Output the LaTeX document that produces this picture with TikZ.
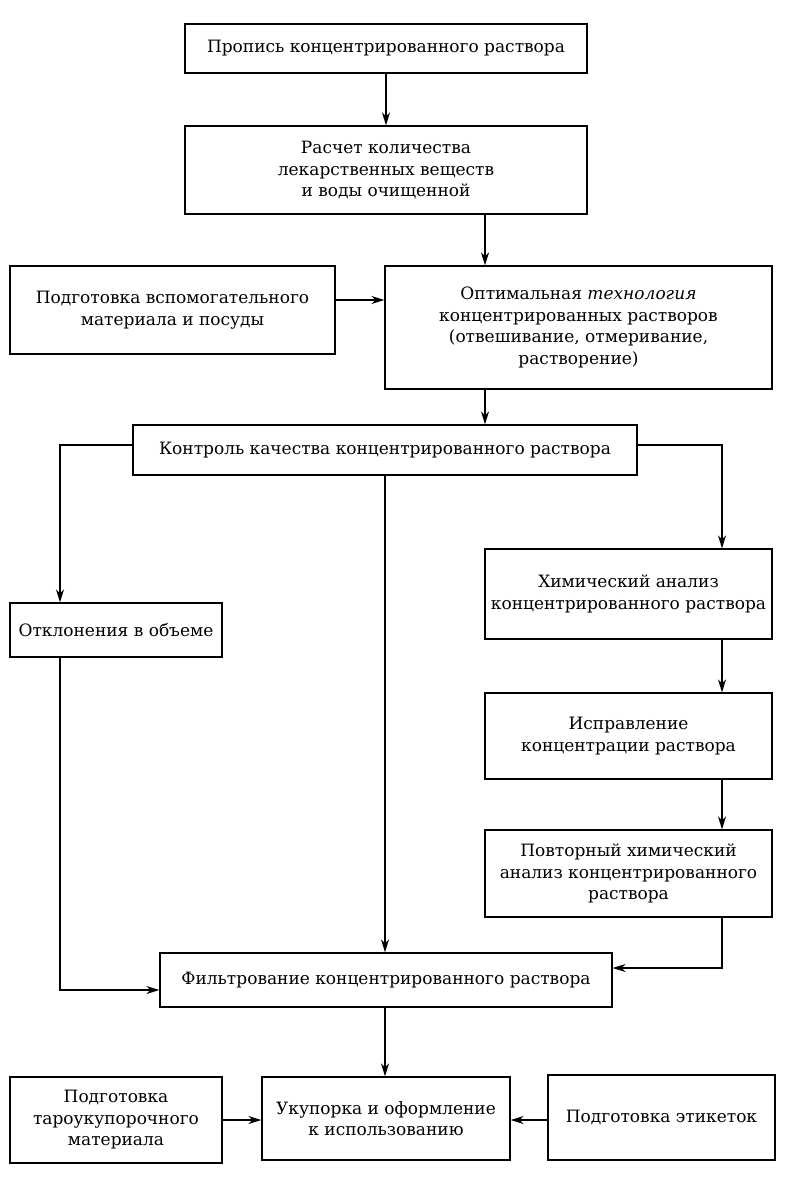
\documentclass[tikz,border=0pt]{standalone}
\usepackage{fontspec}
\setmainfont{DejaVu Serif}
\usetikzlibrary{arrows.meta}
\begin{document}
\begin{tikzpicture}[x=1pt,y=-1pt,
  box/.style={draw,line width=1.3pt,align=center,inner sep=2pt,
    font=\fontsize{17}{21.5}\selectfont,anchor=center},
  arr/.style={line width=1.2pt,-{Stealth[length=13pt,width=8pt,inset=4pt]}},
  ln/.style={line width=1.2pt}]
\useasboundingbox (0,0) rectangle (789,1179);
\node[box,minimum width=402pt,minimum height=49pt] (b1) at (386,48.5) {Пропись концентрированного раствора};
\node[box,minimum width=402pt,minimum height=88pt] (b2) at (386,170) {Расчет количества\\лекарственных веществ\\и воды очищенной};
\node[box,minimum width=325pt,minimum height=88pt] (b3) at (172.5,310) {Подготовка вспомогательного\\материала и посуды};
\node[box,minimum width=387pt,minimum height=123pt] (b4) at (578.5,327.5) {Оптимальная \textit{технология}\\концентрированных растворов\\(отвешивание, отмеривание,\\растворение)};
\node[box,minimum width=504pt,minimum height=50pt] (b5) at (385,450) {Контроль качества концентрированного раствора};
\node[box,minimum width=212pt,minimum height=54pt] (b6) at (116,630) {Отклонения в объеме};
\node[box,minimum width=287pt,minimum height=90pt] (b7) at (628.5,594) {Химический анализ\\концентрированного раствора};
\node[box,minimum width=287pt,minimum height=86pt] (b8) at (628.5,736) {Исправление\\концентрации раствора};
\node[box,minimum width=287pt,minimum height=87pt] (b9) at (628.5,873.5) {Повторный химический\\анализ концентрированного\\раствора};
\node[box,minimum width=452pt,minimum height=54pt] (b10) at (386,980) {Фильтрование концентрированного раствора};
\node[box,minimum width=248pt,minimum height=83pt] (b11) at (386,1118.5) {Укупорка и оформление\\к использованию};
\node[box,minimum width=212pt,minimum height=86pt] (b12) at (116,1120) {Подготовка\\тароукупорочного\\материала};
\node[box,minimum width=227pt,minimum height=85pt] (b13) at (661.5,1117.5) {Подготовка этикеток};
\coordinate (x485) at (485,0);
\coordinate (x60) at (60,0);
\coordinate (x722) at (722,0);
\coordinate (x385) at (385,0);
\coordinate (y300) at (0,300);
\coordinate (y445) at (0,445);
\coordinate (y990) at (0,990);
\coordinate (y968) at (0,968);
\coordinate (y1120) at (0,1120);
\draw[arr] (b1) -- (b2);
\draw[arr] (b2.south -| x485) -- (b4.north -| x485);
\draw[arr] (b3.east |- y300) -- (b4.west |- y300);
\draw[arr] (b4.south -| x485) -- (b5.north -| x485);
\draw[arr] (b5.west |- y445) -| (b6.north -| x60);
\draw[arr] (b5.east |- y445) -| (b7.north -| x722);
\draw[arr] (b5.south -| x385) -- (b10.north -| x385);
\draw[arr] (b6.south -| x60) |- (b10.west |- y990);
\draw[arr] (b7.south -| x722) -- (b8.north -| x722);
\draw[arr] (b8.south -| x722) -- (b9.north -| x722);
\draw[arr] (b9.south -| x722) |- (b10.east |- y968);
\draw[arr] (b10.south -| x385) -- (b11.north -| x385);
\draw[arr] (b12.east |- y1120) -- (b11.west |- y1120);
\draw[arr] (b13.west |- y1120) -- (b11.east |- y1120);
\end{tikzpicture}
\end{document}
